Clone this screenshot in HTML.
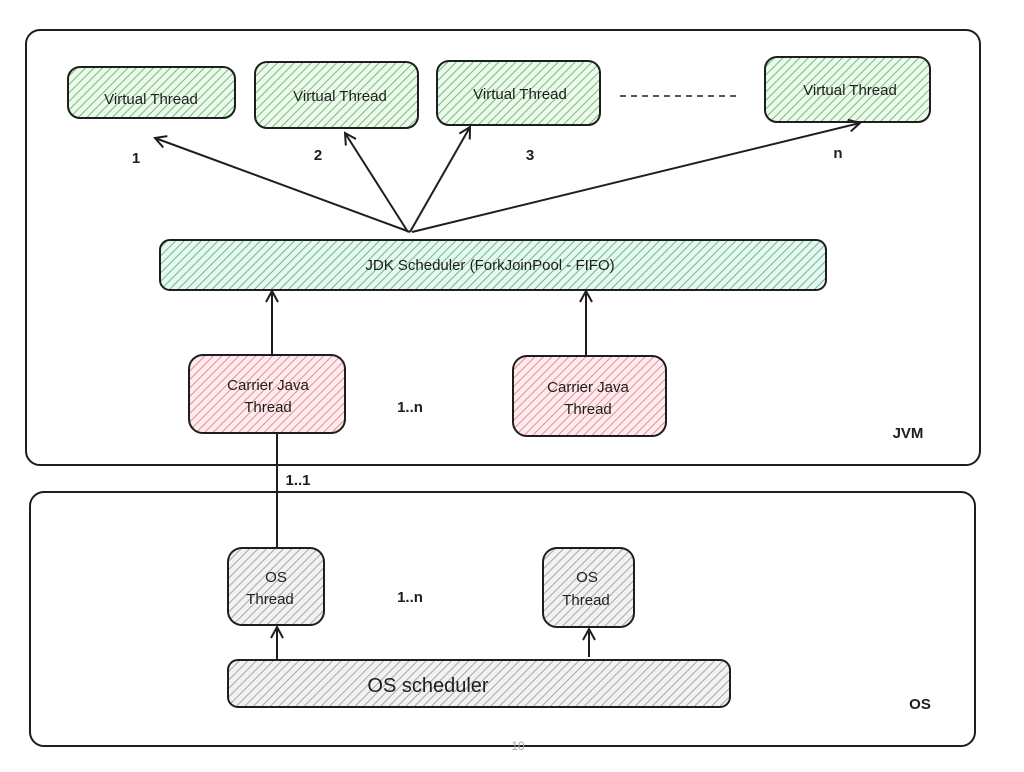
<!DOCTYPE html>
<html><head><meta charset="utf-8"><style>
html,body{margin:0;padding:0;background:#fff;}
svg{display:block;}
text{font-family:"Liberation Sans",sans-serif;fill:#1e1e1e;}
</style></head><body>
<svg width="1024" height="772" viewBox="0 0 1024 772" xmlns="http://www.w3.org/2000/svg">
<defs>
<pattern id="g" width="6" height="6" patternUnits="userSpaceOnUse" patternTransform="rotate(45)"><rect width="6" height="6" fill="#eef8ee"/><line x1="0" y1="0" x2="0" y2="6" stroke="#6cc46c" stroke-width="2"/></pattern>
<pattern id="t" width="6" height="6" patternUnits="userSpaceOnUse" patternTransform="rotate(45)"><rect width="6" height="6" fill="#eaf7f1"/><line x1="0" y1="0" x2="0" y2="6" stroke="#5cbf96" stroke-width="2"/></pattern>
<pattern id="r" width="6" height="6" patternUnits="userSpaceOnUse" patternTransform="rotate(45)"><rect width="6" height="6" fill="#fcecee"/><line x1="0" y1="0" x2="0" y2="6" stroke="#ec8a92" stroke-width="2"/></pattern>
<pattern id="k" width="6" height="6" patternUnits="userSpaceOnUse" patternTransform="rotate(45)"><rect width="6" height="6" fill="#f2f2f2"/><line x1="0" y1="0" x2="0" y2="6" stroke="#a8a8a8" stroke-width="2"/></pattern>
<marker id="a" markerWidth="14" markerHeight="14" refX="12" refY="7" orient="auto" markerUnits="userSpaceOnUse"><path d="M1,1 L12,7 L1,13" fill="none" stroke="#1e1e1e" stroke-width="2"/></marker>
</defs>
<g fill="none" stroke="#1e1e1e" stroke-width="2">
<rect x="26" y="30" width="954" height="435" rx="14"/>
<rect x="30" y="492" width="945" height="254" rx="14"/>
</g>
<g stroke="#1e1e1e" stroke-width="2">
<rect x="68" y="67" width="167" height="51" rx="12" fill="url(#g)"/>
<rect x="255" y="62" width="163" height="66" rx="12" fill="url(#g)"/>
<rect x="437" y="61" width="163" height="64" rx="12" fill="url(#g)"/>
<rect x="765" y="57" width="165" height="65" rx="12" fill="url(#g)"/>
<rect x="160" y="240" width="666" height="50" rx="10" fill="url(#t)"/>
<rect x="189" y="355" width="156" height="78" rx="14" fill="url(#r)"/>
<rect x="513" y="356" width="153" height="80" rx="14" fill="url(#r)"/>
<rect x="228" y="548" width="96" height="77" rx="14" fill="url(#k)"/>
<rect x="543" y="548" width="91" height="79" rx="14" fill="url(#k)"/>
<rect x="228" y="660" width="502" height="47" rx="10" fill="url(#k)"/>
</g>
<line x1="620" y1="96" x2="738" y2="96" stroke="#1e1e1e" stroke-width="1.6" stroke-dasharray="6,5"/>
<g stroke="#1e1e1e" stroke-width="2" fill="none" marker-end="url(#a)">
<line x1="410" y1="232" x2="155" y2="138"/>
<line x1="408" y1="232" x2="345" y2="133"/>
<line x1="410" y1="232" x2="470" y2="127"/>
<line x1="412" y1="232" x2="860" y2="123"/>
<line x1="272" y1="355" x2="272" y2="291"/>
<line x1="586" y1="355" x2="586" y2="291"/>
<line x1="277" y1="660" x2="277" y2="627"/>
<line x1="589" y1="657" x2="589" y2="629"/>
</g>
<line x1="277" y1="433" x2="277" y2="548" stroke="#1e1e1e" stroke-width="2"/>
<g font-size="15" text-anchor="middle">
<text x="151" y="104">Virtual Thread</text>
<text x="340" y="101">Virtual Thread</text>
<text x="520" y="99">Virtual Thread</text>
<text x="850" y="95">Virtual Thread</text>
<text x="490" y="270">JDK Scheduler (ForkJoinPool - FIFO)</text>
<text x="268" y="390">Carrier Java</text>
<text x="268" y="412">Thread</text>
<text x="588" y="392">Carrier Java</text>
<text x="588" y="414">Thread</text>
<text x="276" y="582">OS</text>
<text x="270" y="604">Thread</text>
<text x="587" y="582">OS</text>
<text x="586" y="605">Thread</text>
</g>
<g font-size="15" text-anchor="middle" font-weight="bold">
<text x="136" y="163">1</text>
<text x="318" y="160">2</text>
<text x="530" y="160">3</text>
<text x="838" y="158">n</text>
<text x="410" y="412">1..n</text>
<text x="298" y="485">1..1</text>
<text x="410" y="602">1..n</text>
<text x="908" y="438">JVM</text>
<text x="920" y="709">OS</text>
</g>
<text x="428" y="692" font-size="20" text-anchor="middle">OS scheduler</text>
<text x="518" y="750" font-size="12" text-anchor="middle" style="fill:#aaa">10</text>
</svg>
</body></html>
